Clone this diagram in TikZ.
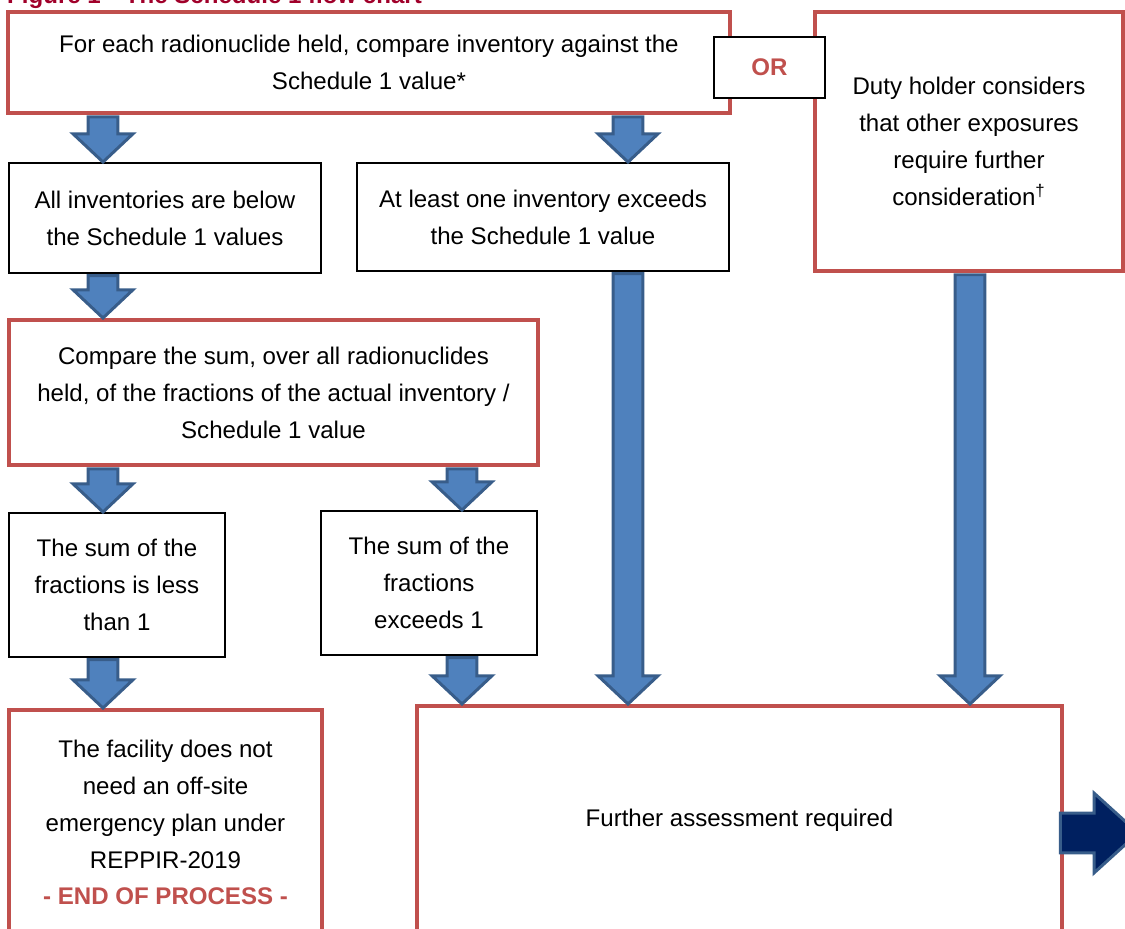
\documentclass[tikz,border=0pt]{standalone}
\usepackage{fontspec}
\setmainfont{Liberation Sans}
\usetikzlibrary{calc}
\definecolor{boxred}{HTML}{C0504D}
\definecolor{arrowblue}{HTML}{4F81BD}
\definecolor{arrowedge}{HTML}{385D8A}
\definecolor{arrownavy}{HTML}{002060}
\definecolor{titlered}{HTML}{A0002A}
% block arrow pointing down: #1 = x position, #2 = from node, #3 = to node
\newcommand{\blockdown}[3]{%
  \draw[block arrow] let \p0=(#1,0), \p1=(#2.south), \p2=(#3.north) in
    (\x0-8.5pt,\y1-1pt) -- (\x0-8.5pt,\y2+16pt) -- (\x0-17pt,\y2+16pt) -- (\x0,\y2)
    -- (\x0+17pt,\y2+16pt) -- (\x0+8.5pt,\y2+16pt) -- (\x0+8.5pt,\y1-1pt) -- cycle;}
\begin{document}
\begin{tikzpicture}[x=0.02cm,y=-0.02cm,font=\fontsize{13.7}{21}\selectfont]
        % Styles
        \tikzstyle{red box}=[draw=boxred,line width=2.3pt,fill=white,align=center,inner sep=0pt]
        \tikzstyle{black box}=[draw=black,line width=1.1pt,fill=white,align=center,inner sep=0pt]
        \tikzstyle{block arrow}=[draw=arrowedge,line width=1.7pt,fill=arrowblue,line join=miter]
        %The graphic
        \useasboundingbox (0,0) rectangle (1125,929);
        \clip (0,0) rectangle (1125,929);
        \node[anchor=base west,text=titlered,font=\fontsize{13.7}{16}\selectfont\bfseries] (title) at (1,4) {Figure 1\quad The Schedule 1 flow chart};
        %boxes
        \node[red box,minimum width=14.44cm,minimum height=2.02cm] (start) at (369,62.5)
            {For each radionuclide held, compare inventory against the\\Schedule 1 value*};
        \node[red box,minimum width=6.16cm,minimum height=5.18cm] (duty) at (969,141.5)
            {Duty holder considers\\that other exposures\\require further\\consideration\textsuperscript{\dag}};
        \node[black box,minimum width=2.22cm,minimum height=1.22cm,text=boxred,font=\fontsize{13.7}{16}\selectfont\bfseries] (orbox) at (769.5,67.5) {OR};
        \node[black box,minimum width=6.24cm,minimum height=2.2cm] (allbelow) at (165,218)
            {All inventories are below\\the Schedule 1 values};
        \node[black box,minimum width=7.44cm,minimum height=2.16cm] (oneabove) at (543,217)
            {At least one inventory exceeds\\the Schedule 1 value};
        \node[red box,minimum width=10.58cm,minimum height=2.9cm] (sumcmp) at (273.5,392.5)
            {Compare the sum, over all radionuclides\\held, of the fractions of the actual inventory /\\Schedule 1 value};
        \node[black box,minimum width=4.32cm,minimum height=2.88cm] (sumless) at (117,585)
            {The sum of the\\fractions is less\\than 1};
        \node[black box,minimum width=4.32cm,minimum height=2.88cm] (summore) at (429,583)
            {The sum of the\\fractions\\exceeds 1};
        \node[red box,minimum width=6.26cm,minimum height=4.5cm] (endproc) at (165.5,822.5)
            {The facility does not\\need an off-site\\emergency plan under\\REPPIR-2019\\{\color{boxred}\bfseries - END OF PROCESS -}};
        \node[red box,minimum width=12.9cm,minimum height=4.58cm] (further) at (739.5,820.5)
            {Further assessment required};
        %arrows
        \foreach \xpos/\from/\to in {103/start/allbelow,103/allbelow/sumcmp,103/sumcmp/sumless,103/sumless/endproc,
            628/start/oneabove,628/oneabove/further,462/sumcmp/summore,462/summore/further,970/duty/further}
            \blockdown{\xpos}{\from}{\to};
        \coordinate (onward) at (1138,833);
        \draw[block arrow,fill=arrownavy] let \p1=(further.east), \p2=(onward) in
            (\x1-2pt,\y2+11.3pt) -- (\x2-25pt,\y2+11.3pt) -- (\x2-25pt,\y2+22.7pt) -- (\x2,\y2)
            -- (\x2-25pt,\y2-22.7pt) -- (\x2-25pt,\y2-11.3pt) -- (\x1-2pt,\y2-11.3pt) -- cycle;
\end{tikzpicture}
\end{document}
